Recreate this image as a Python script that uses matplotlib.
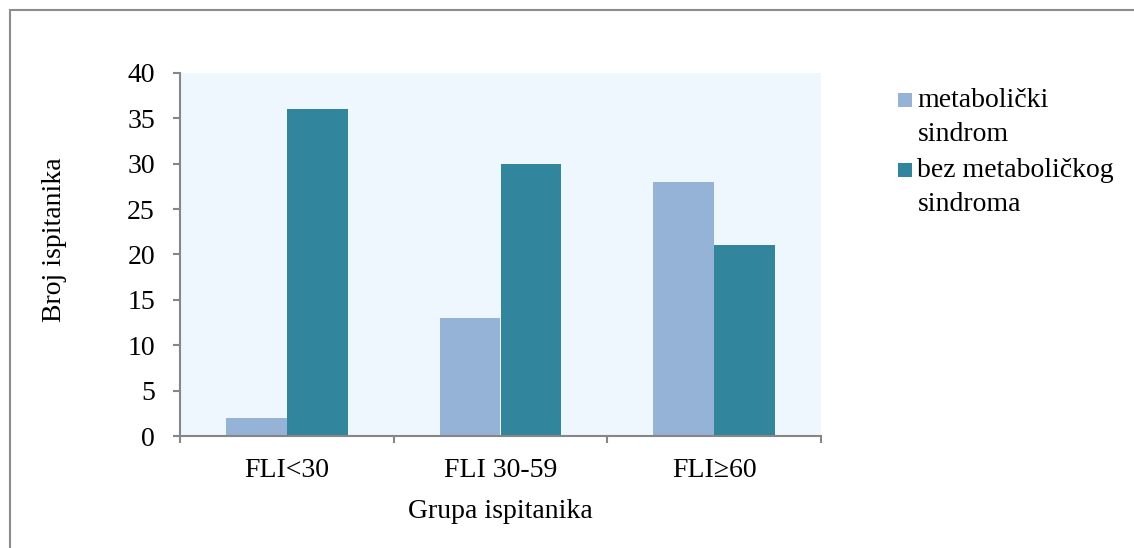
import matplotlib
matplotlib.use("Agg")
import matplotlib.pyplot as plt
from matplotlib.patches import Rectangle, Patch
from matplotlib.legend_handler import HandlerPatch
import numpy as np

categories = ["FLI<30", "FLI 30-59", "FLI≥60"]
series_names = ["metabolički\nsindrom", "bez metaboličkog\nsindroma"]
met_sindrom = [2, 13, 28]
bez_met_sindroma = [36, 30, 21]
y_ticks = [0, 5, 10, 15, 20, 25, 30, 35, 40]

c_light = "#95B3D7"
c_dark = "#31859C"
bg = "#EEF7FE"
grey = "#868686"
FS = 20

plt.rcParams["font.family"] = ["Liberation Serif", "DejaVu Serif"]

W, H = 1134, 548
fig = plt.figure(figsize=(W / 100, H / 100), dpi=100)

# outer border (right/bottom edges fall outside the image, as in the reference)
fig.patches.append(Rectangle((9.5 / W, -0.1), 1.2, 1 - 10.5 / H + 0.1, transform=fig.transFigure,
                             fill=False, edgecolor="#8C8C8C", linewidth=1.5))

ax = fig.add_axes([180 / W, 1 - 436 / H, (821 - 180) / W, (436 - 73) / H])
ax.set_facecolor(bg)

x = np.arange(len(categories))
w = 61 / 214
ax.bar(x - w / 2, met_sindrom, width=w, color=c_light, label=series_names[0])
ax.bar(x + w / 2, bez_met_sindroma, width=w, color=c_dark, label=series_names[1])

ax.set_xlim(-0.5, len(categories) - 0.5)
ax.set_ylim(0, 40)
ax.set_yticks(y_ticks)
ax.set_xticks(x)
ax.set_xticklabels(categories)
ax.set_xticks(np.arange(len(categories) + 1) - 0.5, minor=True)
ax.tick_params(axis="x", which="major", length=0, pad=16, labelsize=FS)
ax.tick_params(axis="x", which="minor", length=5, width=1.5, color=grey, direction="out")
ax.tick_params(axis="y", length=5, width=1.5, color=grey, direction="out", pad=13, labelsize=FS)

for s in ["top", "right"]:
    ax.spines[s].set_visible(False)
for s in ["left", "bottom"]:
    ax.spines[s].set_color(grey)
    ax.spines[s].set_linewidth(1.5)

ax.set_xlabel("Grupa ispitanika", fontsize=FS, labelpad=11)
ax.set_ylabel("Broj ispitanika", fontsize=FS)
ax.yaxis.set_label_coords(-0.176, 0.54)


def square_patch(legend, orig_handle, xdescent, ydescent, width, height, fontsize):
    return Rectangle((-xdescent, -ydescent), width, width)


handles = [Patch(facecolor=c_light), Patch(facecolor=c_dark)]
leg = fig.legend(handles, series_names, loc="upper left", bbox_to_anchor=(898 / W, 1 - 88 / H),
                 frameon=False, fontsize=FS, handlelength=0.5, handleheight=0.65,
                 handletextpad=0.2, labelspacing=0.42, borderpad=0, borderaxespad=0,
                 handler_map={Patch: HandlerPatch(patch_func=square_patch)})
for t in leg.get_texts():
    t.set_linespacing(1.45)
for col in leg._legend_handle_box.get_children():
    for hp in col.get_children():
        hp.align = "top"

fig.savefig("out.png", dpi=100)
